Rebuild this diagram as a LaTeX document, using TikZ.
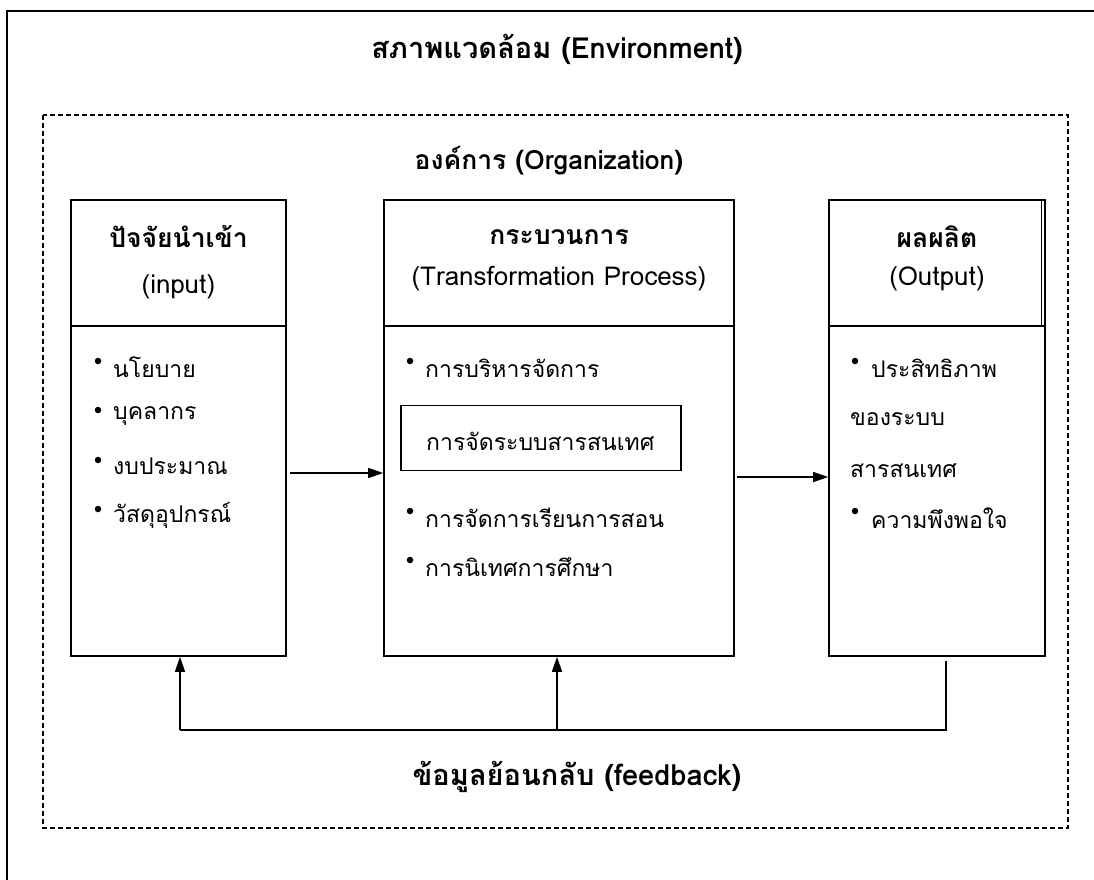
\documentclass[tikz,border=0pt]{standalone}
\usepackage{fontspec}
\setmainfont[Script=Thai]{Loma}
\usetikzlibrary{arrows.meta}
\begin{document}
\begin{tikzpicture}[x=1pt,y=-1pt,
  frame/.style={draw,line width=1.6pt},
  dashframe/.style={draw,line width=1.2pt,dash pattern=on 5pt off 3pt},
  box/.style={draw,line width=1.6pt,inner sep=0pt},
  conn/.style={draw,line width=1.4pt},
  arr/.style={conn,-{Triangle[length=15pt,width=10pt]}},
  ttl/.style={font=\bfseries\fontsize{29}{34}\selectfont,inner sep=0pt},
  hd/.style={font=\fontsize{26}{30}\selectfont,inner sep=0pt},
  hdb/.style={font=\bfseries\fontsize{26.5}{30}\selectfont,inner sep=0pt},
  itm/.style={font=\fontsize{23}{28}\selectfont,inner sep=0pt,anchor=west},
  bul/.style={circle,fill,inner sep=0pt,minimum size=6.5pt}
]
\useasboundingbox (0,0) rectangle (1094,880);
\begin{scope}
\clip (0,0) rectangle (1094,880);
\path[frame] (7,11) rectangle (1110,900);
\end{scope}
\path[dashframe] (43,115) rectangle (1068,828);

\node[ttl] (env) at (557,49) {สภาพแวดล้อม (Environment)};
\node[hdb] (org) at (549,161) {องค์การ (Organization)};
\node[ttl] (fbt) at (577,777) {ข้อมูลย้อนกลับ (feedback)};

% boxes
\node[box,minimum width=215pt,minimum height=126pt] (inhead) at (178.5,263) {};
\node[box,minimum width=215pt,minimum height=330pt] (inbody) at (178.5,491) {};
\node[box,minimum width=350pt,minimum height=126pt] (prohead) at (559,263) {};
\node[box,minimum width=350pt,minimum height=330pt] (probody) at (559,491) {};
\node[box,minimum width=216pt,minimum height=126pt] (outhead) at (937,263) {};
\node[box,minimum width=216pt,minimum height=330pt] (outbody) at (937,491) {};
\draw[line width=0.8pt] (1041.5,200) -- (1041.5,326);

% headers
\node[hdb] (inh1) at (178.5,236) {ปัจจัยนำเข้า};
\node[hd] (inh2) at (178.5,287) {(input)};
\node[hdb] (proh1) at (559,237) {กระบวนการ};
\node[hd] (proh2) at (559,279) {(Transformation Process)};
\node[hdb] (outh1) at (937,237) {ผลผลิต};
\node[hd] (outh2) at (937,279) {(Output)};

% input items
\node[bul] (b1) at (98,361) {};
\node[itm] (i1) at (113,367) {นโยบาย};
\node[bul] (b2) at (98,410) {};
\node[itm] (i2) at (113,416) {บุคลากร};
\node[bul] (b3) at (98,460) {};
\node[itm] (i3) at (113,466) {งบประมาณ};
\node[bul] (b4) at (98,509) {};
\node[itm] (i4) at (113,515) {วัสดุอุปกรณ์};

% process items
\node[bul] (b5) at (410,361) {};
\node[itm] (p1) at (425,368) {การบริหารจัดการ};
\node[box,line width=1.4pt,minimum width=280pt,minimum height=65pt] (isys) at (541,438) {};
\node[itm] (p2) at (426,441) {การจัดระบบสารสนเทศ};
\node[bul] (b6) at (410,511) {};
\node[itm] (p3) at (425,518) {การจัดการเรียนการสอน};
\node[bul] (b7) at (410,560) {};
\node[itm] (p4) at (425,567) {การนิเทศการศึกษา};

% output items
\node[bul] (b8) at (855,361) {};
\node[itm] (o1) at (871,368) {ประสิทธิภาพ};
\node[itm] (o2) at (850,419) {ของระบบ};
\node[itm] (o3) at (850,471) {สารสนเทศ};
\node[bul] (b9) at (855,511) {};
\node[itm] (o4) at (871,518) {ความพึงพอใจ};

% connectors
\draw[arr] ([xshift=3pt,yshift=18pt]inbody.east) -- ([yshift=18pt]probody.west);
\draw[arr] ([xshift=2pt,yshift=14pt]probody.east) -- ([yshift=14pt]outbody.west);

\coordinate (fbl) at (180,730);
\coordinate (fbm) at (557,730);
\coordinate (fbr) at (946,730);
\draw[conn] ([xshift=9pt,yshift=-4pt]outbody.south) -- (fbr) -- (fbl);
\draw[arr] (fbl) -- (fbl |- inbody.south);
\draw[arr] (fbm) -- (fbm |- probody.south);
\end{tikzpicture}
\end{document}
